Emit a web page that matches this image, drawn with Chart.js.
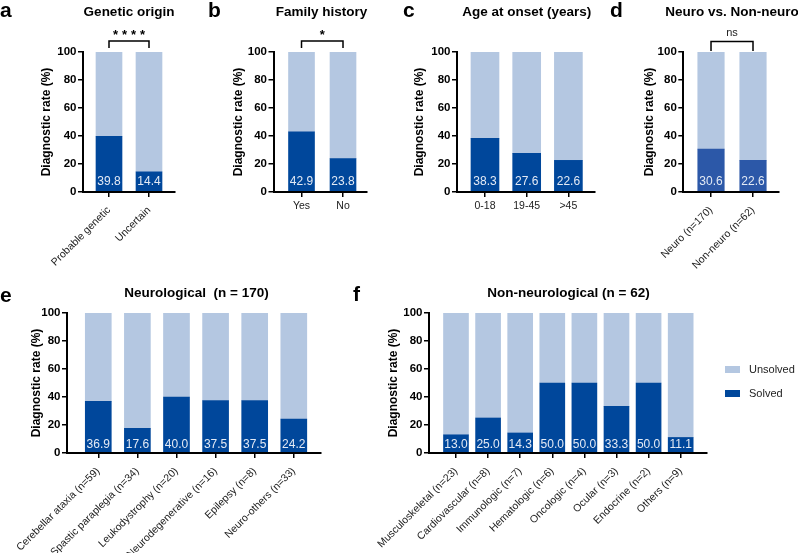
<!DOCTYPE html>
<html>
<head>
<meta charset="utf-8">
<script src="https://cdn.jsdelivr.net/npm/chart.js@4.4.1/dist/chart.umd.min.js"></script>
<style>
  html, body { margin: 0; padding: 0; background: #fff; }
  #wrap { position: relative; width: 798px; height: 556px; overflow: hidden; background: #fff; }
  #wrap canvas { position: absolute; left: 0; top: 0; }
</style>
</head>
<body>
<div id="wrap">
  <canvas id="chartA" width="798" height="556"></canvas>
  <canvas id="chartB" width="798" height="556"></canvas>
  <canvas id="chartC" width="798" height="556"></canvas>
  <canvas id="chartD" width="798" height="556"></canvas>
  <canvas id="chartE" width="798" height="556"></canvas>
  <canvas id="chartF" width="798" height="556"></canvas>
</div>
<script>
// Dados do grafico
const seriesNames = ["Solved", "Unsolved"];
const yTicks = [0, 20, 40, 60, 80, 100];

const geneticLabels = ["Probable genetic", "Uncertain"];
const geneticSolved = [39.8, 14.4];
const geneticUnsolved = [60.2, 85.6];

const familyLabels = ["Yes", "No"];
const familySolved = [42.9, 23.8];
const familyUnsolved = [57.1, 76.2];

const onsetLabels = ["0-18", "19-45", ">45"];
const onsetSolved = [38.3, 27.6, 22.6];
const onsetUnsolved = [61.7, 72.4, 77.4];

const groupLabels = ["Neuro (n=170)", "Non-neuro (n=62)"];
const groupSolved = [30.6, 22.6];
const groupUnsolved = [69.4, 77.4];

const neuroLabels = ["Cerebellar ataxia (n=59)", "Spastic paraplegia (n=34)", "Leukodystrophy (n=20)",
  "Neurodegenerative (n=16)", "Epilepsy (n=8)", "Neuro-others (n=33)"];
const neuroSolved = [36.9, 17.6, 40.0, 37.5, 37.5, 24.2];
const neuroUnsolved = [63.1, 82.4, 60.0, 62.5, 62.5, 75.8];

const nonNeuroLabels = ["Musculoskeletal (n=23)", "Cardiovascular (n=8)", "Immunologic (n=7)", "Hematologic (n=6)",
  "Oncologic (n=4)", "Ocular (n=3)", "Endocrine (n=2)", "Others (n=9)"];
const nonNeuroSolved = [13.0, 25.0, 14.3, 50.0, 50.0, 33.3, 50.0, 11.1];
const nonNeuroUnsolved = [87.0, 75.0, 85.7, 50.0, 50.0, 66.7, 50.0, 88.9];

const solvedColor = "#00479b";
const solvedColorD = "#2c58a8";
const unsolvedColor = "#b4c7e1";
const FONT = '"Liberation Sans", Arial, Helvetica, sans-serif';

// letras, titulos, colchetes de significancia, valores e legenda
const panelDecor = {
  id: "panelDecor",
  afterDatasetsDraw(chart, args, opts) {
    const ctx = chart.ctx;
    const meta = chart.getDatasetMeta(0);
    const values = chart.data.datasets[0].data;
    ctx.save();
    ctx.fillStyle = "#e3eaf5";
    ctx.font = "12px " + FONT;
    ctx.textAlign = "center";
    ctx.textBaseline = "middle";
    meta.data.forEach((bar, i) => {
      ctx.fillText(values[i].y.toFixed(1), bar.x, bar.base - opts.valueOffset);
    });
    ctx.restore();
  },
  afterDraw(chart, args, opts) {
    const ctx = chart.ctx;
    const xs = chart.scales.x;
    ctx.save();
    ctx.fillStyle = "#000";
    ctx.textBaseline = "alphabetic";

    ctx.font = "bold 21px " + FONT;
    ctx.textAlign = "left";
    ctx.fillText(opts.letter, opts.letterX, opts.letterY);

    ctx.font = "bold 13.5px " + FONT;
    ctx.textAlign = "center";
    ctx.fillText(opts.title, opts.titleX, opts.titleY);

    if (opts.sig) {
      const x0 = xs.getPixelForValue(0);
      const x1 = xs.getPixelForValue(1);
      const s = opts.sig;
      ctx.strokeStyle = "#000";
      ctx.lineWidth = 1.5;
      ctx.beginPath();
      ctx.moveTo(x0, s.legY);
      ctx.lineTo(x0, s.lineY);
      ctx.lineTo(x1, s.lineY);
      ctx.lineTo(x1, s.legY);
      ctx.stroke();
      if (s.stars) {
        ctx.font = "bold 13px " + FONT;
        ctx.letterSpacing = "4px";
        ctx.fillText(s.text, (x0 + x1) / 2 + 2, s.textY);
        ctx.letterSpacing = "0px";
      } else {
        ctx.font = "11px " + FONT;
        ctx.fillStyle = "#222";
        ctx.fillText(s.text, (x0 + x1) / 2, s.textY);
      }
    }

    if (opts.legend) {
      const lg = opts.legend;
      const ds = chart.data.datasets;
      const order = [1, 0];
      ctx.font = "11px " + FONT;
      ctx.textAlign = "left";
      ctx.textBaseline = "middle";
      order.forEach((k, j) => {
        const cy = lg.y + j * lg.gap;
        ctx.fillStyle = ds[k].backgroundColor;
        ctx.fillRect(lg.x, cy - 3.5, 15, 7);
        ctx.fillStyle = "#222";
        ctx.fillText(ds[k].label, lg.x + 24, cy);
      });
    }
    ctx.restore();
  }
};

function makePanel(id, labels, solved, unsolved, p) {
  const padLeft = p.yTitleX - 7.2;
  const xH = 100;
  new Chart(document.getElementById(id), {
    type: "bar",
    data: {
      datasets: [
        {
          label: seriesNames[0],
          data: solved.map((v, i) => ({ x: i, y: v })),
          backgroundColor: p.solvedColor || solvedColor,
          barThickness: p.barW
        },
        {
          label: seriesNames[1],
          data: unsolved.map((v, i) => ({ x: i, y: v })),
          backgroundColor: unsolvedColor,
          barThickness: p.barW
        }
      ]
    },
    options: {
      responsive: false,
      animation: false,
      layout: {
        padding: { left: padLeft, right: 798 - p.axisR, top: p.top, bottom: 556 - p.bottom - xH }
      },
      scales: {
        x: {
          type: "linear",
          stacked: true,
          offset: false,
          min: p.xMin,
          max: p.xMax,
          afterBuildTicks: s => { s.ticks = labels.map((_, i) => ({ value: i })); },
          afterFit: s => { s.height = xH; s.paddingLeft = 0; s.paddingRight = 0; },
          grid: { offset: false, drawOnChartArea: false, drawTicks: true, tickLength: 5, color: "#000", lineWidth: 1.5 },
          border: { color: "#000", width: 2, z: 1 },
          ticks: {
            autoSkip: false,
            minRotation: p.rot,
            maxRotation: p.rot,
            padding: p.rot ? 7 : 3,
            color: "#222",
            font: { family: FONT, size: 10.5 },
            callback: v => labels[v]
          }
        },
        y: {
          stacked: true,
          min: 0,
          max: 100,
          afterBuildTicks: s => { s.ticks = yTicks.map(v => ({ value: v })); },
          afterFit: s => { s.width = p.axisL - padLeft; s.paddingTop = 0; s.paddingBottom = 0; },
          grid: { drawOnChartArea: false, drawTicks: true, tickLength: 5, color: "#000", lineWidth: 1.5 },
          border: { color: "#000", width: 2, z: 1 },
          ticks: { padding: 1.5, color: "#000", font: { family: FONT, size: 11.5, weight: "bold" } },
          title: {
            display: true,
            text: "Diagnostic rate (%)",
            color: "#000",
            padding: 0,
            font: { family: FONT, size: 12, weight: "bold" }
          }
        }
      },
      plugins: {
        legend: { display: false },
        tooltip: { enabled: false },
        panelDecor: p.decor
      }
    },
    plugins: [panelDecor]
  });
}

makePanel("chartA", geneticLabels, geneticSolved, geneticUnsolved, {
  axisL: 83, axisR: 175, top: 52, bottom: 192, yTitleX: 47, barW: 26, xMin: -0.65, xMax: 1.65, rot: 45,
  decor: {
    letter: "a", letterX: 0, letterY: 17, title: "Genetic origin", titleX: 129, titleY: 15.5, valueOffset: 9.5,
    sig: { text: "****", stars: true, lineY: 41, legY: 48, textY: 38.5 }
  }
});

makePanel("chartB", familyLabels, familySolved, familyUnsolved, {
  axisL: 273.5, axisR: 366.7, top: 52, bottom: 192, yTitleX: 239, barW: 26, xMin: -0.675, xMax: 1.571, rot: 0,
  decor: {
    letter: "b", letterX: 208, letterY: 17, title: "Family history", titleX: 321.5, titleY: 15.5, valueOffset: 9.5,
    sig: { text: "*", stars: true, lineY: 41, legY: 48, textY: 39 }
  }
});

makePanel("chartC", onsetLabels, onsetSolved, onsetUnsolved, {
  axisL: 457, axisR: 595, top: 52, bottom: 192, yTitleX: 419.5, barW: 28, xMin: -0.671, xMax: 2.638, rot: 0,
  decor: {
    letter: "c", letterX: 403, letterY: 17, title: "Age at onset (years)", titleX: 526.7, titleY: 15.5, valueOffset: 9.5
  }
});

makePanel("chartD", groupLabels, groupSolved, groupUnsolved, {
  axisL: 683.3, axisR: 779, top: 52, bottom: 192, yTitleX: 649.5, barW: 26.5, xMin: -0.66, xMax: 1.619, rot: 45,
  solvedColor: solvedColorD,
  decor: {
    letter: "d", letterX: 610, letterY: 17, title: "Neuro vs. Non-neuro", titleX: 732, titleY: 15.5, valueOffset: 9.5,
    sig: { text: "ns", stars: false, lineY: 41.5, legY: 51, textY: 36 }
  }
});

makePanel("chartE", neuroLabels, neuroSolved, neuroUnsolved, {
  axisL: 67, axisR: 320.7, top: 313, bottom: 453, yTitleX: 36.5, barW: 26, xMin: -0.80, xMax: 5.688, rot: 45,
  decor: {
    letter: "e", letterX: 0, letterY: 301.5, title: "Neurological  (n = 170)", titleX: 196.5, titleY: 296.5, valueOffset: 8
  }
});

makePanel("chartF", nonNeuroLabels, nonNeuroSolved, nonNeuroUnsolved, {
  axisL: 429, axisR: 707, top: 313, bottom: 453, yTitleX: 394, barW: 25, xMin: -0.841, xMax: 7.82, rot: 45,
  decor: {
    letter: "f", letterX: 353, letterY: 300.5, title: "Non-neurological (n = 62)", titleX: 568.5, titleY: 296.5, valueOffset: 8,
    legend: { x: 725, y: 369.5, gap: 24 }
  }
});
</script>
</body>
</html>
